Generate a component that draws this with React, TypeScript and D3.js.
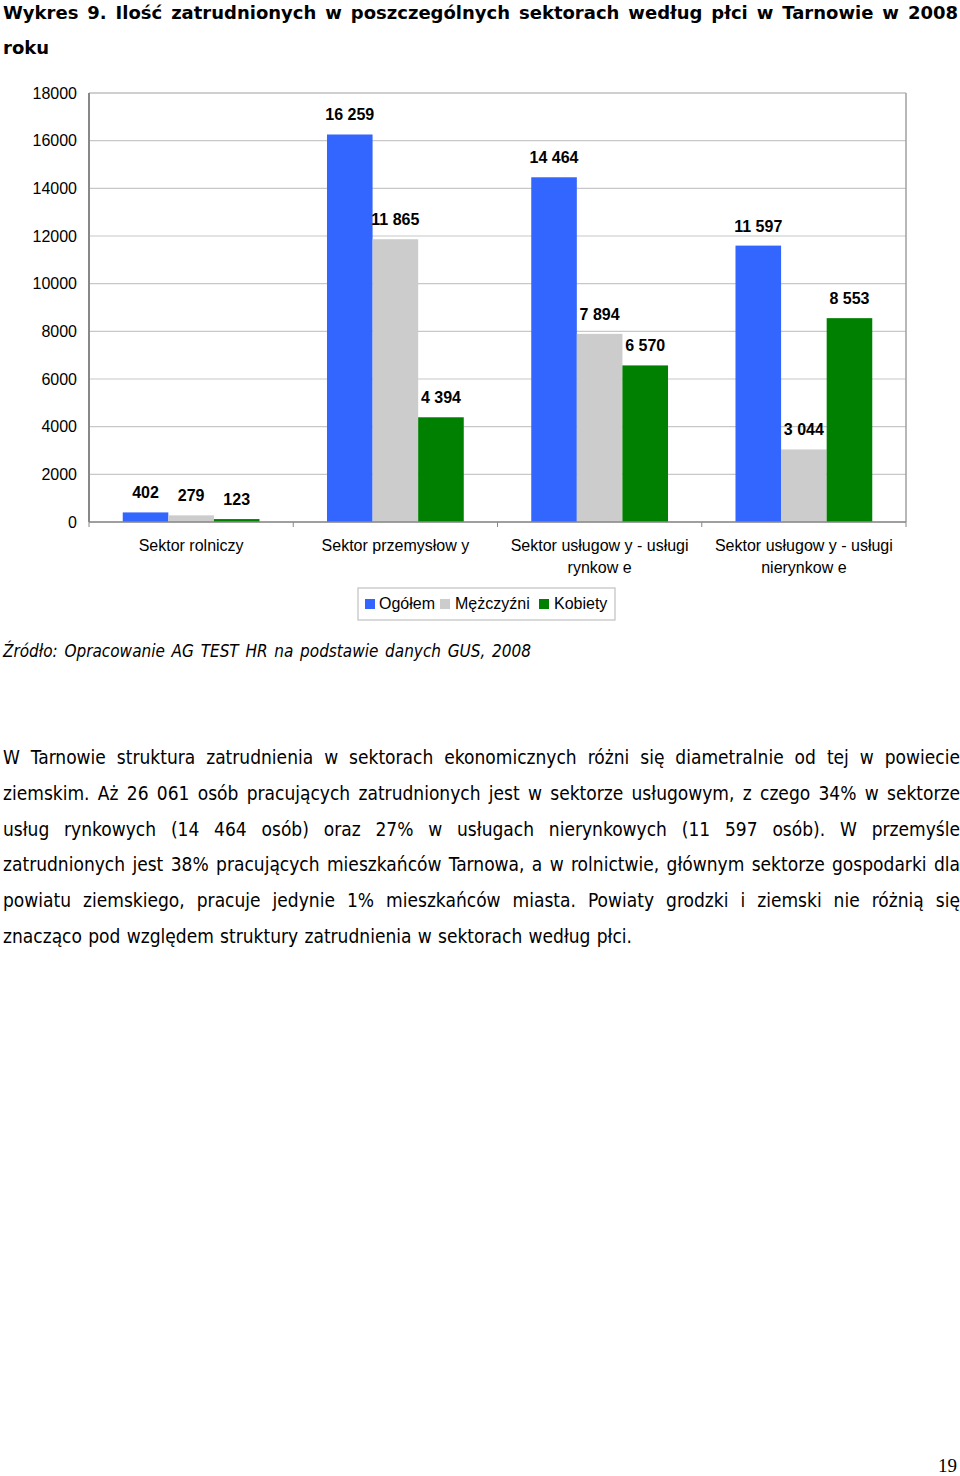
import React, { useLayoutEffect, useRef } from "react";
import * as d3 from "d3";

const titleLines = [
  "Wykres 9. Ilość zatrudnionych w poszczególnych sektorach według płci w Tarnowie w 2008",
  "roku",
];
const sourceText = "Źródło: Opracowanie AG TEST HR na podstawie danych GUS, 2008";
const paragraphLines = [
  "W Tarnowie struktura zatrudnienia w sektorach ekonomicznych różni się diametralnie od tej w powiecie",
  "ziemskim. Aż 26 061 osób pracujących zatrudnionych jest w sektorze usługowym, z czego 34% w sektorze",
  "usług rynkowych (14 464 osób) oraz 27% w usługach nierynkowych (11 597 osób). W przemyśle",
  "zatrudnionych jest 38% pracujących mieszkańców Tarnowa, a w rolnictwie, głównym sektorze gospodarki dla",
  "powiatu ziemskiego, pracuje jedynie 1% mieszkańców miasta. Powiaty grodzki i ziemski nie różnią się",
  "znacząco pod względem struktury zatrudnienia w sektorach według płci.",
];
const pageNumber = "19";

const categoryLines: string[][] = [
  ["Sektor rolniczy"],
  ["Sektor przemysłow y"],
  ["Sektor usługow y - usługi", "rynkow e"],
  ["Sektor usługow y - usługi", "nierynkow e"],
];
const seriesNames = ["Ogółem", "Mężczyźni", "Kobiety"];
const seriesColors = ["#3366FF", "#CCCCCC", "#008000"];
const ogolem = [402, 16259, 14464, 11597];
const mezczyzni = [279, 11865, 7894, 3044];
const kobiety = [123, 4394, 6570, 8553];
const seriesValues = [ogolem, mezczyzni, kobiety];
const yMax = 18000;

const textFont = "'DejaVu Sans Condensed', 'DejaVu Sans', sans-serif";
const titleFont = "'DejaVu Sans', Verdana, sans-serif";
const chartFont = "'Liberation Sans', Arial, sans-serif";

function JText(props: {
  x: number;
  y: number;
  width: number;
  text: string;
  size: number;
  weight?: string;
  italic?: boolean;
  justify?: boolean;
  font?: string;
}) {
  const ref = useRef<SVGTextElement>(null);
  useLayoutEffect(() => {
    const el = ref.current;
    if (!el) return;
    el.style.wordSpacing = "0px";
    el.removeAttribute("textLength");
    el.removeAttribute("lengthAdjust");
    const len = el.getComputedTextLength();
    const spaces = (props.text.match(/ /g) || []).length;
    if (props.justify === false) return;
    if (len < props.width && spaces > 0) {
      el.style.wordSpacing = `${(props.width - len) / spaces}px`;
    } else if (len > props.width) {
      el.setAttribute("textLength", String(props.width));
      el.setAttribute("lengthAdjust", "spacingAndGlyphs");
    }
  }, [props.text, props.width]);
  return (
    <text
      ref={ref}
      x={props.x}
      y={props.y}
      fontFamily={props.font || textFont}
      fontSize={props.size}
      fontWeight={props.weight || "normal"}
      fontStyle={props.italic ? "italic" : "normal"}
      fill="#000"
    >
      {props.text}
    </text>
  );
}

export default function App() {
  const W = 960;
  const H = 1476;
  const plotL = 89;
  const plotR = 906;
  const plotT = 93;
  const plotB = 522;

  const catKeys = categoryLines.map((_, i) => String(i));
  const x0 = d3.scaleBand<string>().domain(catKeys).range([plotL, plotR]).padding(0);
  const x1 = d3
    .scaleBand<string>()
    .domain(seriesNames)
    .range([0, x0.bandwidth()])
    .paddingInner(0)
    .paddingOuter(0.74);
  const y = d3.scaleLinear().domain([0, yMax]).range([plotB, plotT]);
  const ticks = y.ticks(10);
  const fmt = d3.formatLocale({
    decimal: ",",
    thousands: " ",
    grouping: [3],
    currency: ["", " zł"],
  }).format(",d");

  const legendX = 358;
  const legendY = 588;
  const legendItems = [
    { name: seriesNames[0], color: seriesColors[0], sq: 365, tx: 379 },
    { name: seriesNames[1], color: seriesColors[1], sq: 440, tx: 455 },
    { name: seriesNames[2], color: seriesColors[2], sq: 539, tx: 554 },
  ];

  return (
    <svg
      width={W}
      height={H}
      style={{ position: "absolute", left: 0, top: 0, background: "#fff" }}
    >
      <rect x={0} y={0} width={W} height={H} fill="#fff" />
      {/* Title */}
      <JText x={3} y={19} width={955} text={titleLines[0]} size={18} weight="bold" font={titleFont} />
      <JText x={3} y={54} width={45} text={titleLines[1]} size={18} weight="bold" justify={false} font={titleFont} />

      {/* gridlines */}
      {ticks.map((t) => (
        <line
          key={"g" + t}
          x1={plotL}
          x2={plotR}
          y1={y(t)}
          y2={y(t)}
          stroke={t === yMax ? "#a0a0a0" : "#c8c8c8"}
          strokeWidth={1.2}
        />
      ))}
      {/* right border */}
      <line x1={plotR} x2={plotR} y1={plotT} y2={plotB} stroke="#a0a0a0" strokeWidth={1.5} />
      {/* y tick labels */}
      {ticks.map((t) => (
        <text
          key={"t" + t}
          x={77}
          y={y(t)}
          dy="0.35em"
          textAnchor="end"
          fontFamily={chartFont}
          fontSize={16}
          fill="#000"
        >
          {t}
        </text>
      ))}

      {/* bars */}
      {categoryLines.map((_, ci) =>
        seriesNames.map((s, si) => {
          const v = seriesValues[si][ci];
          const bx = (x0(String(ci)) as number) + (x1(s) as number);
          return (
            <rect
              key={`b${ci}-${si}`}
              x={bx}
              y={y(v)}
              width={x1.bandwidth()}
              height={plotB - y(v)}
              fill={seriesColors[si]}
            />
          );
        })
      )}

      {/* axes */}
      <line x1={plotL} x2={plotL} y1={plotT} y2={plotB} stroke="#888" strokeWidth={2} />
      <line x1={plotL} x2={plotR} y1={plotB} y2={plotB} stroke="#888" strokeWidth={1.5} />
      {catKeys.concat(["end"]).map((k, i) => {
        const xx = i < catKeys.length ? (x0(k) as number) : plotR;
        return (
          <line key={"tk" + i} x1={xx} x2={xx} y1={plotB} y2={plotB + 5} stroke="#888" strokeWidth={1} />
        );
      })}

      {/* value labels */}
      {categoryLines.map((_, ci) =>
        seriesNames.map((s, si) => {
          const v = seriesValues[si][ci];
          const cx = (x0(String(ci)) as number) + (x1(s) as number) + x1.bandwidth() / 2;
          return (
            <text
              key={`l${ci}-${si}`}
              x={cx}
              y={y(v) - 14}
              textAnchor="middle"
              fontFamily={chartFont}
              fontSize={16}
              fontWeight="bold"
              fill="#000"
            >
              {fmt(v)}
            </text>
          );
        })
      )}

      {/* category labels */}
      {categoryLines.map((lines, ci) => {
        const cx = (x0(String(ci)) as number) + x0.bandwidth() / 2;
        return lines.map((ln, li) => (
          <text
            key={`c${ci}-${li}`}
            x={cx}
            y={551 + li * 22}
            textAnchor="middle"
            fontFamily={chartFont}
            fontSize={16}
            fill="#000"
          >
            {ln}
          </text>
        ));
      })}

      {/* legend */}
      <rect
        x={legendX}
        y={legendY}
        width={257}
        height={32}
        fill="#fff"
        stroke="#c0c0c0"
        strokeWidth={1.2}
      />
      {legendItems.map((it) => (
        <g key={it.name}>
          <rect x={it.sq} y={599} width={10} height={10} fill={it.color} />
          <text x={it.tx} y={609} fontFamily={chartFont} fontSize={16} fill="#000">
            {it.name}
          </text>
        </g>
      ))}

      {/* source */}
      <JText x={3} y={657} width={528} text={sourceText} size={17} italic />

      {/* paragraph */}
      {paragraphLines.map((ln, i) => (
        <JText
          key={"p" + i}
          x={3}
          y={764 + i * 35.8}
          width={i === paragraphLines.length - 1 ? 629 : 957}
          text={ln}
          size={19}
        />
      ))}

      {/* page number */}
      <text
        x={957}
        y={1472}
        textAnchor="end"
        fontFamily="'Liberation Serif', 'Times New Roman', serif"
        fontSize={19}
        fill="#000"
      >
        {pageNumber}
      </text>
    </svg>
  );
}
